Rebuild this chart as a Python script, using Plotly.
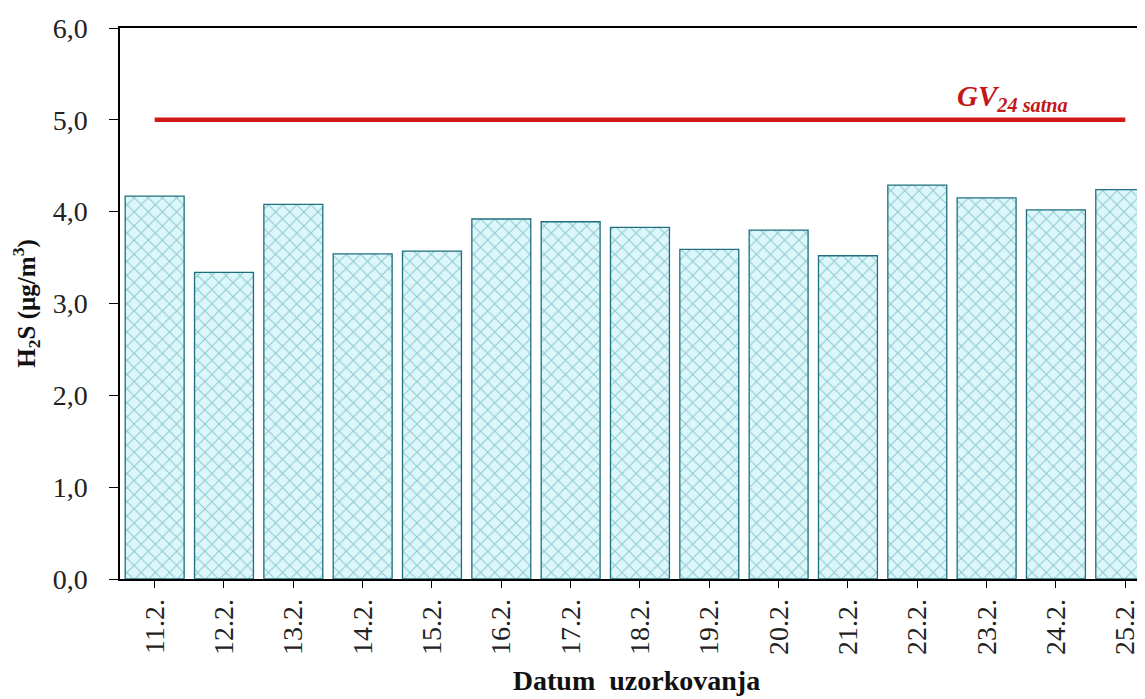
import plotly.graph_objects as go

categories = ["11.2.", "12.2.", "13.2.", "14.2.", "15.2.", "16.2.", "17.2.", "18.2.",
              "19.2.", "20.2.", "21.2.", "22.2.", "23.2.", "24.2.", "25.2."]
h2s_values = [4.17, 3.34, 4.08, 3.54, 3.57, 3.92, 3.89, 3.83, 3.59, 3.80, 3.52, 4.29, 4.15, 4.02, 4.24]
gv_limit = 5.0
y_ticks = [0, 1, 2, 3, 4, 5, 6]

font_family = "Liberation Serif, Times New Roman, serif"

fig = go.Figure()
fig.add_trace(go.Bar(
    x=list(range(len(categories))),
    y=h2s_values,
    width=0.85,
    marker=dict(
        color="#d8f6f8",
        line=dict(color="#1f6f80", width=1.3),
        pattern=dict(shape="x", fgcolor="#3f97a5", bgcolor="#dcf7fa", size=10, solidity=0.2),
    ),
    showlegend=False,
))
fig.add_trace(go.Scatter(
    x=[0, len(categories) - 1],
    y=[gv_limit, gv_limit],
    mode="lines",
    line=dict(color="#d01818", width=4.5),
    showlegend=False,
))
fig.add_annotation(
    x=13.2, y=gv_limit, xref="x", yref="y",
    text="<b><i>GV<sub>24 satna</sub></i></b>",
    showarrow=False, xanchor="right", yanchor="bottom", yshift=2,
    font=dict(family=font_family, size=29, color="#c41818"),
)

fig.update_layout(
    width=1145, height=699,
    margin=dict(l=112, r=0, t=20, b=128),
    plot_bgcolor="white", paper_bgcolor="white",
    separators=", ",
    font=dict(family=font_family, color="#222"),
)
fig.update_xaxes(
    range=[-0.5, 14.4],
    automargin=False,
    tickmode="array",
    tickvals=list(range(len(categories))),
    ticktext=categories,
    tickangle=-90,
    tickson="boundaries",
    ticks="outside", ticklen=7, tickcolor="black",
    showline=True, linecolor="black", linewidth=1.5, mirror=True,
    showgrid=False, zeroline=False,
    tickfont=dict(family=font_family, size=28, color="#222"),
    title=dict(text="<b>Datum  uzorkovanja</b>", font=dict(family=font_family, size=28, color="#111"), standoff=16),
)
fig.update_yaxes(
    range=[0, 6],
    automargin=False,
    tickmode="array",
    tickvals=y_ticks,
    tickformat=".1f",
    ticks="outside", ticklen=9, tickcolor="black",
    showline=True, linecolor="black", linewidth=1.5, mirror=True,
    showgrid=False, zeroline=False,
    ticklabelstandoff=16,
    tickfont=dict(family=font_family, size=28, color="#222"),
    title=dict(text="<b>H<sub>2</sub>S (µg/m<sup>3</sup>)</b>", font=dict(family=font_family, size=25, color="#111"), standoff=14),
)

fig.write_html("out.html")
